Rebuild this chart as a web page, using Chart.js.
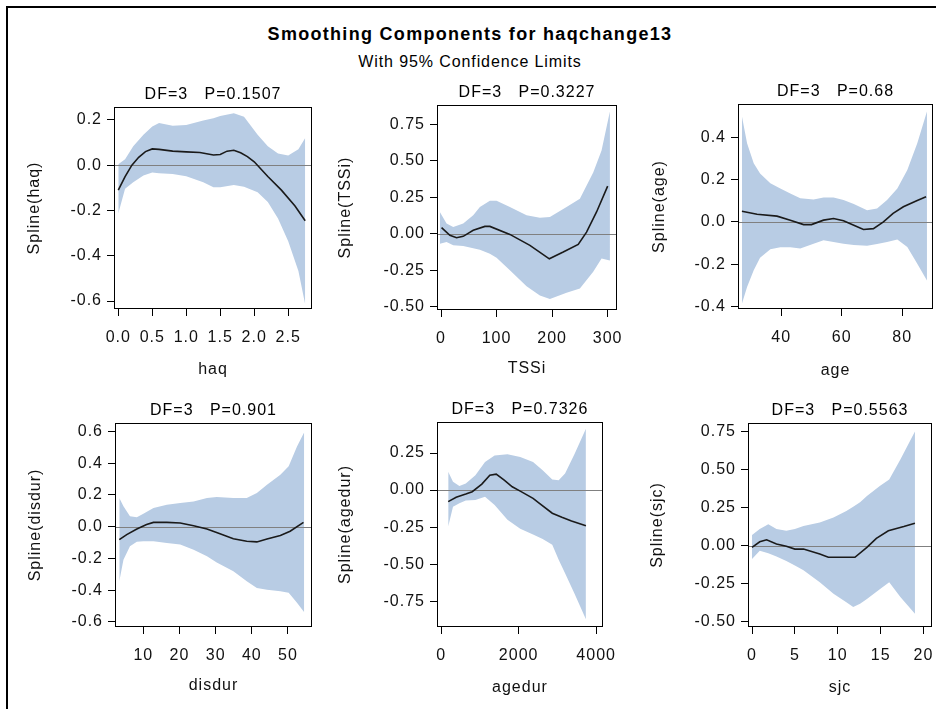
<!DOCTYPE html>
<html>
<head>
<meta charset="utf-8">
<script src="https://cdn.jsdelivr.net/npm/chart.js@4.4.1/dist/chart.umd.min.js"></script>
<style>
  body { margin: 0; width: 936px; height: 709px; overflow: hidden; background: #fff; position: relative;
         font-family: 'Liberation Sans', Arial, sans-serif; }
  #frame { position: absolute; left: 6px; top: 6px; width: 2000px; height: 2000px;
           border-left: 2px solid #000; border-top: 2px solid #000; }
  .head { position: absolute; left: 0; width: 940px; text-align: center; line-height: 1; color: #000; }
  #title { top: 25px; font-size: 18px; font-weight: bold; letter-spacing: 1.3px; }
  #subtitle { top: 54px; font-size: 16px; letter-spacing: 0.9px; }
  canvas { position: absolute; }
</style>
</head>
<body>
<div id="frame"></div>
<div class="head" id="title">Smoothing Components for haqchange13</div>
<div class="head" id="subtitle">With 95% Confidence Limits</div>
<script>
// haq
const haqBandX = [0, 0.1, 0.22, 0.37, 0.5, 0.6, 0.8, 1.0, 1.25, 1.4, 1.5, 1.7, 1.85, 2.05, 2.2, 2.35, 2.5, 2.65, 2.75];
const haqUpper = [0.004, 0.026, 0.084, 0.135, 0.171, 0.186, 0.174, 0.178, 0.197, 0.207, 0.217, 0.229, 0.214, 0.135, 0.084, 0.052, 0.043, 0.07, 0.12];
const haqLower = [-0.213, -0.104, -0.075, -0.046, -0.032, -0.035, -0.039, -0.049, -0.075, -0.097, -0.097, -0.087, -0.095, -0.119, -0.162, -0.235, -0.336, -0.467, -0.615];
const haqFitX = [0, 0.1, 0.2, 0.3, 0.4, 0.5, 0.6, 0.8, 1.0, 1.2, 1.4, 1.5, 1.6, 1.7, 1.8, 1.9, 2.0, 2.2, 2.4, 2.6, 2.75];
const haqFit = [-0.11, -0.05, 0.0, 0.035, 0.06, 0.072, 0.07, 0.062, 0.059, 0.056, 0.045, 0.047, 0.062, 0.066, 0.055, 0.038, 0.015, -0.05, -0.11, -0.18, -0.245];
const haqXTicks = ['0.0', '0.5', '1.0', '1.5', '2.0', '2.5'];
const haqYTicks = ['-0.6', '-0.4', '-0.2', '0.0', '0.2'];

// TSSi
const tssiBandX = [-2, 10, 22, 40, 58, 70, 88, 100, 124, 154, 178, 196, 226, 250, 274, 289, 304];
const tssiUpper = [0.149, 0.069, 0.046, 0.069, 0.126, 0.183, 0.225, 0.225, 0.183, 0.126, 0.11, 0.115, 0.183, 0.24, 0.42, 0.57, 0.837];
const tssiLower = [-0.069, -0.057, -0.08, -0.085, -0.1, -0.11, -0.138, -0.165, -0.25, -0.36, -0.424, -0.447, -0.405, -0.375, -0.26, -0.17, -0.183];
const tssiFitX = [1, 16, 28, 40, 58, 79, 88, 124, 160, 195, 220, 247, 262, 280, 300];
const tssiFit = [0.041, -0.011, -0.028, -0.018, 0.023, 0.05, 0.05, -0.005, -0.08, -0.172, -0.126, -0.073, 0.011, 0.149, 0.326];
const tssiXTicks = ['0', '100', '200', '300'];
const tssiYTicks = ['-0.50', '-0.25', '0.00', '0.25', '0.50', '0.75'];

// age
const ageBandX = [27, 28.7, 30.9, 33, 36.4, 39.7, 43, 46.3, 50.7, 54, 57.3, 60.6, 64, 68.4, 71.7, 75, 78.4, 81.7, 85, 88.2];
const ageUpper = [0.498, 0.372, 0.277, 0.229, 0.182, 0.158, 0.134, 0.111, 0.106, 0.115, 0.115, 0.103, 0.084, 0.055, 0.063, 0.103, 0.158, 0.245, 0.372, 0.522];
const ageLower = [-0.387, -0.308, -0.229, -0.17, -0.13, -0.12, -0.12, -0.126, -0.103, -0.087, -0.095, -0.103, -0.11, -0.113, -0.105, -0.095, -0.084, -0.119, -0.198, -0.277];
const ageFitX = [27, 32, 38.6, 43, 47.4, 50, 54, 57.3, 60.6, 64, 67.2, 70.5, 73.8, 77, 80.4, 84.8, 87.9];
const ageFit = [0.05, 0.036, 0.027, 0.008, -0.013, -0.013, 0.008, 0.016, 0.005, -0.016, -0.036, -0.032, 0, 0.04, 0.071, 0.1, 0.119];
const ageXTicks = ['40', '60', '80'];
const ageYTicks = ['-0.4', '-0.2', '0.0', '0.2', '0.4'];

// disdur
const disdurBandX = [3.35, 4.5, 6.3, 8.2, 10, 12.8, 16.5, 20.2, 23.9, 27.6, 30.3, 34.9, 38.6, 41.4, 44.2, 47.9, 50.2, 52.5, 54.5];
const disdurUpper = [0.18, 0.128, 0.065, 0.059, 0.082, 0.117, 0.138, 0.149, 0.159, 0.18, 0.187, 0.18, 0.18, 0.212, 0.264, 0.327, 0.38, 0.505, 0.594];
const disdurLower = [-0.344, -0.208, -0.124, -0.095, -0.092, -0.092, -0.103, -0.113, -0.145, -0.187, -0.226, -0.281, -0.344, -0.386, -0.397, -0.407, -0.417, -0.48, -0.539];
const disdurFitX = [3.35, 5.4, 8.2, 10.9, 12.8, 16.5, 20.2, 23.9, 27.6, 31.2, 34.9, 38.6, 41.4, 44.2, 47.9, 50.6, 54.3];
const disdurFit = [-0.082, -0.05, -0.015, 0.013, 0.027, 0.027, 0.023, 0.006, -0.015, -0.044, -0.076, -0.092, -0.096, -0.078, -0.055, -0.029, 0.027];
const disdurXTicks = ['10', '20', '30', '40', '50'];
const disdurYTicks = ['-0.6', '-0.4', '-0.2', '0.0', '0.2', '0.4', '0.6'];

// agedur
const agedurBandX = [182, 306, 471, 636, 884, 1132, 1380, 1711, 2041, 2372, 2620, 2868, 3033, 3198, 3446, 3736];
const agedurUpper = [0.123, 0.056, 0.027, 0.045, 0.1, 0.19, 0.234, 0.241, 0.223, 0.19, 0.134, 0.071, 0.067, 0.112, 0.245, 0.413];
const agedurLower = [-0.246, -0.112, -0.089, -0.07, -0.067, -0.045, -0.1, -0.2, -0.26, -0.3, -0.33, -0.368, -0.47, -0.56, -0.7, -0.871];
const agedurFitX = [182, 388, 636, 802, 1050, 1256, 1421, 1628, 1835, 2041, 2372, 2537, 2868, 3116, 3364, 3736];
const agedurFit = [-0.078, -0.049, -0.027, -0.011, 0.04, 0.1, 0.107, 0.067, 0.022, -0.007, -0.056, -0.089, -0.156, -0.183, -0.208, -0.241];
const agedurXTicks = ['0', '2000', '4000'];
const agedurYTicks = ['-0.75', '-0.50', '-0.25', '0.00', '0.25'];

// sjc
const sjcBandX = [0, 0.9, 1.9, 2.85, 4, 5, 6, 7.9, 9.5, 11, 11.8, 12.6, 13.4, 14.9, 16, 17.3, 19];
const sjcUpper = [0.07, 0.109, 0.141, 0.109, 0.098, 0.109, 0.13, 0.152, 0.185, 0.228, 0.255, 0.285, 0.326, 0.391, 0.435, 0.565, 0.75];
const sjcLower = [-0.087, -0.033, -0.05, -0.07, -0.1, -0.13, -0.16, -0.239, -0.315, -0.37, -0.402, -0.38, -0.35, -0.285, -0.239, -0.337, -0.446];
const sjcFitX = [0, 0.9, 1.7, 2.85, 4, 5, 6, 7.9, 8.9, 10, 12, 13.4, 14.5, 15.9, 17.7, 19];
const sjcFit = [-0.011, 0.026, 0.039, 0.011, -0.004, -0.022, -0.022, -0.054, -0.076, -0.076, -0.076, -0.011, 0.048, 0.098, 0.126, 0.148];
const sjcXTicks = ['0', '5', '10', '15', '20'];
const sjcYTicks = ['-0.50', '-0.25', '0.00', '0.25', '0.50', '0.75'];

const panels = [
  { title: 'DF=3   P=0.1507', xLabel: 'haq', yLabel: 'Spline(haq)', bandX: haqBandX, upper: haqUpper, lower: haqLower,
    fitX: haqFitX, fit: haqFit, xTicks: haqXTicks, yTicks: haqYTicks,
    xRange: [-0.063, 2.85], yRange: [-0.635, 0.257], area: [114, 107, 312, 309], ytx: 35, xty: 369 },
  { title: 'DF=3   P=0.3227', xLabel: 'TSSi', yLabel: 'Spline(TSSi)', bandX: tssiBandX, upper: tssiUpper, lower: tssiLower,
    fitX: tssiFitX, fit: tssiFit, xTicks: tssiXTicks, yTicks: tssiYTicks,
    xRange: [-7.2, 316.8], yRange: [-0.523, 0.882], area: [437, 105, 617, 310], ytx: 346, xty: 368 },
  { title: 'DF=3   P=0.68', xLabel: 'age', yLabel: 'Spline(age)', bandX: ageBandX, upper: ageUpper, lower: ageLower,
    fitX: ageFitX, fit: ageFit, xTicks: ageXTicks, yTicks: ageYTicks,
    xRange: [25.7, 90.2], yRange: [-0.412, 0.557], area: [738, 104, 933, 309], ytx: 660, xty: 370 },
  { title: 'DF=3   P=0.901', xLabel: 'disdur', yLabel: 'Spline(disdur)', bandX: disdurBandX, upper: disdurUpper, lower: disdurLower,
    fitX: disdurFitX, fit: disdurFit, xTicks: disdurXTicks, yTicks: disdurYTicks,
    xRange: [2.16, 56.65], yRange: [-0.632, 0.653], area: [115, 423, 312, 627], ytx: 36, xty: 685 },
  { title: 'DF=3   P=0.7326', xLabel: 'agedur', yLabel: 'Spline(agedur)', bandX: agedurBandX, upper: agedurUpper, lower: agedurLower,
    fitX: agedurFitX, fit: agedurFit, xTicks: agedurXTicks, yTicks: agedurYTicks,
    xRange: [-107, 4176], yRange: [-0.923, 0.459], area: [437, 422, 609, 627], ytx: 346, xty: 687 },
  { title: 'DF=3   P=0.5563', xLabel: 'sjc', yLabel: 'Spline(sjc)', bandX: sjcBandX, upper: sjcUpper, lower: sjcLower,
    fitX: sjcFitX, fit: sjcFit, xTicks: sjcXTicks, yTicks: sjcYTicks,
    xRange: [-0.47, 20.99], yRange: [-0.533, 0.805], area: [748, 423, 932, 627], ytx: 658, xty: 687 }
];

Chart.defaults.font.family = "'Liberation Sans', Arial, sans-serif";
Chart.defaults.font.size = 16;
Chart.defaults.color = '#111';

const pts = (xs, ys) => xs.map((x, i) => ({ x: x, y: ys[i] }));

// the original's text runs a little wider than Liberation Sans
const spacing = ctx => { ctx.letterSpacing = '1px'; };

const framePlugin = {
  id: 'frame',
  beforeUpdate(chart) { spacing(chart.ctx); },
  beforeLayout(chart) { spacing(chart.ctx); },
  beforeDraw(chart) { spacing(chart.ctx); },
  beforeDatasetDraw(chart, args) {
    if (args.index !== 0) return;
    const { ctx, chartArea } = chart;
    const y = Math.round(chart.scales.y.getPixelForValue(0)) + 0.5;
    ctx.save();
    ctx.strokeStyle = '#808080';
    ctx.lineWidth = 1;
    ctx.beginPath();
    ctx.moveTo(chartArea.left, y);
    ctx.lineTo(chartArea.right, y);
    ctx.stroke();
    ctx.restore();
  },
  afterDraw(chart) {
    const { ctx, chartArea } = chart;
    ctx.save();
    ctx.strokeStyle = '#000';
    ctx.lineWidth = 1;
    ctx.strokeRect(Math.round(chartArea.left) + 0.5, Math.round(chartArea.top) + 0.5,
      Math.round(chartArea.right - chartArea.left) - 1, Math.round(chartArea.bottom - chartArea.top) - 1);
    ctx.restore();
  }
};

const TH = 22, LH = 19.2, RP = 20;

function makePanel(p) {
  const [l, t, r, b] = p.area;
  const left = Math.round(p.ytx - LH / 2);
  const yw = l - left;
  const xh = Math.round(p.xty + LH / 2) - b;
  const cv = document.createElement('canvas');
  cv.width = yw + (r - l) + RP;
  cv.height = TH + (b - t) + xh;
  cv.style.left = left + 'px';
  cv.style.top = (t - TH) + 'px';
  document.body.appendChild(cv);

  new Chart(cv, {
    type: 'line',
    data: {
      datasets: [
        { data: pts(p.fitX, p.fit), borderColor: '#1a1a1a', borderWidth: 1.6, pointRadius: 0, fill: false },
        { data: pts(p.bandX, p.upper), borderColor: 'rgba(0,0,0,0)', borderWidth: 0, pointRadius: 0,
          fill: '+1', backgroundColor: '#b8cce4' },
        { data: pts(p.bandX, p.lower), borderColor: 'rgba(0,0,0,0)', borderWidth: 0, pointRadius: 0, fill: false }
      ]
    },
    options: {
      responsive: false,
      animation: false,
      devicePixelRatio: 1,
      layout: { padding: { left: 0, top: 0, right: RP, bottom: 0 } },
      plugins: {
        legend: { display: false },
        tooltip: { enabled: false },
        title: { display: true, text: p.title, fullSize: false, color: '#000',
                 padding: { top: 0, bottom: TH - LH }, font: { size: 16, weight: 'normal' } }
      },
      scales: {
        x: {
          type: 'linear', min: p.xRange[0], max: p.xRange[1],
          afterFit: s => { s.height = xh; },
          afterBuildTicks: s => { s.ticks = p.xTicks.map(v => ({ value: parseFloat(v) })); },
          ticks: { autoSkip: false, maxRotation: 0, padding: 12, callback: (v, i) => p.xTicks[i] },
          grid: { drawOnChartArea: false, tickLength: 7, tickColor: '#000' },
          border: { display: false },
          title: { display: true, text: p.xLabel, padding: 0, font: { size: 16 } }
        },
        y: {
          type: 'linear', min: p.yRange[0], max: p.yRange[1],
          afterFit: s => { s.width = yw; },
          afterBuildTicks: s => { s.ticks = p.yTicks.map(v => ({ value: parseFloat(v) })); },
          ticks: { autoSkip: false, padding: 5, callback: (v, i) => p.yTicks[i] },
          grid: { drawOnChartArea: false, tickLength: 7, tickColor: '#000' },
          border: { display: false },
          title: { display: true, text: p.yLabel, padding: 0, font: { size: 16 } }
        }
      }
    },
    plugins: [framePlugin]
  });
}

panels.forEach(makePanel);
</script>
</body>
</html>
